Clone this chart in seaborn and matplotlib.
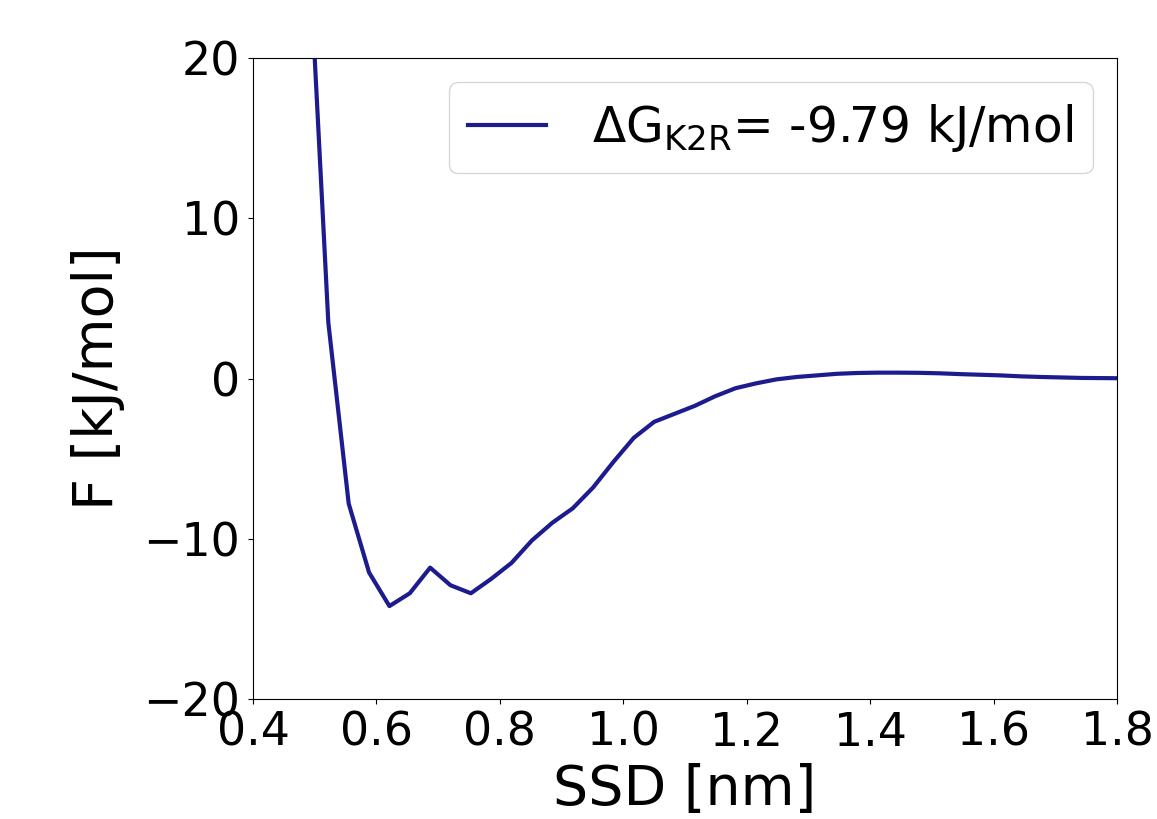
import pandas as pd
import matplotlib
matplotlib.use('Agg')
import matplotlib.pyplot as plt
import seaborn as sns

# free energy profile
ssd = [0.489, 0.522, 0.555, 0.588, 0.621, 0.654, 0.687, 0.720, 0.753, 0.786,
       0.819, 0.852, 0.885, 0.918, 0.951, 0.984, 1.017, 1.050, 1.083, 1.116,
       1.149, 1.182, 1.215, 1.248, 1.281, 1.314, 1.347, 1.380, 1.413, 1.446,
       1.479, 1.512, 1.545, 1.578, 1.611, 1.644, 1.677, 1.710, 1.743, 1.776, 1.809]
free_energy = [28.2, 3.5, -7.8, -12.1, -14.2, -13.4, -11.8, -12.9, -13.4, -12.5,
               -11.5, -10.1, -9.0, -8.1, -6.8, -5.2, -3.7, -2.7, -2.2, -1.7,
               -1.1, -0.6, -0.3, -0.05, 0.1, 0.2, 0.3, 0.35, 0.37, 0.37,
               0.36, 0.33, 0.28, 0.24, 0.2, 0.14, 0.1, 0.07, 0.04, 0.03, 0.02]
xticks = [0.4, 0.6, 0.8, 1.0, 1.2, 1.4, 1.6, 1.8]
yticks = [-20, -10, 0, 10, 20]
label = r'$\Delta$G$_{\mathrm{K2R}}$= -9.79 kJ/mol'

df = pd.DataFrame({'SSD': ssd, 'F': free_energy})

plt.rcParams['xtick.labelsize'] = 33
plt.rcParams['ytick.labelsize'] = 33
plt.rcParams['xtick.major.pad'] = 5
plt.rcParams['ytick.major.pad'] = 6

fig = plt.figure(figsize=(11.57, 8.19), dpi=100)
ax = fig.add_axes([0.2187, 0.1465, 0.7467, 0.7825])
sns.lineplot(data=df, x='SSD', y='F', ax=ax, color='#1c1c8e', linewidth=3, label=label)
ax.set_xlim(0.4, 1.8)
ax.set_ylim(-20, 20)
ax.set_xticks(xticks)
ax.set_xticklabels([f'{t:.1f}' for t in xticks])
ax.set_yticks(yticks)
ax.set_xlabel('SSD [nm]', fontsize=40, labelpad=5)
ax.set_ylabel('F [kJ/mol]', fontsize=40, labelpad=13)
ax.legend(loc='upper right', fontsize=35, handlelength=1.6, handletextpad=0.95)
fig.savefig('out.png', dpi=100)
